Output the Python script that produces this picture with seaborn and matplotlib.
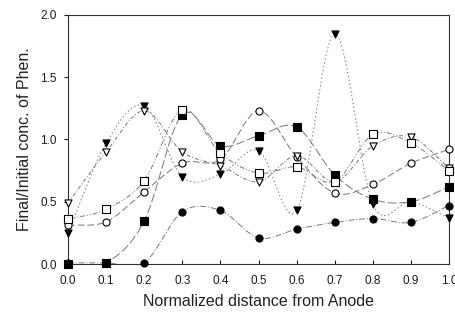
import numpy as np
import pandas as pd
import seaborn as sns
import matplotlib
matplotlib.use("Agg")
import matplotlib.pyplot as plt

# Data
distance = [0.0, 0.1, 0.2, 0.3, 0.4, 0.5, 0.6, 0.7, 0.8, 0.9, 1.0]
filled_circle = [0.01, 0.01, 0.01, 0.42, 0.43, 0.21, 0.28, 0.335, 0.365, 0.335, 0.47]
open_circle = [0.31, 0.34, 0.58, 0.81, 0.84, 1.23, 0.86, 0.57, 0.64, 0.81, 0.92]
filled_tri = [0.25, 0.97, 1.27, 0.70, 0.72, 0.91, 0.43, 1.85, 0.48, 0.50, 0.37]
open_tri = [0.49, 0.90, 1.23, 0.90, 0.79, 0.66, 0.87, 0.66, 0.95, 1.02, 0.77]
filled_sq = [0.0, 0.01, 0.345, 1.20, 0.95, 1.03, 1.10, 0.715, 0.52, 0.50, 0.62]
open_sq = [0.36, 0.44, 0.67, 1.24, 0.89, 0.73, 0.78, 0.66, 1.04, 0.97, 0.75]

x_ticks = [0.0, 0.1, 0.2, 0.3, 0.4, 0.5, 0.6, 0.7, 0.8, 0.9, 1.0]
y_ticks = [0.0, 0.5, 1.0, 1.5, 2.0]


def smooth(x, y, n=30):
    # cubic hermite (catmull-rom) curve through the points, for the drawn line only
    x = np.asarray(x, float)
    y = np.asarray(y, float)
    m = np.gradient(y, x)
    xs, ys = [], []
    for i in range(len(x) - 1):
        h = x[i + 1] - x[i]
        t = np.linspace(0, 1, n, endpoint=False)
        h00 = 2 * t**3 - 3 * t**2 + 1
        h10 = t**3 - 2 * t**2 + t
        h01 = -2 * t**3 + 3 * t**2
        h11 = t**3 - t**2
        xs.append(x[i] + t * h)
        ys.append(h00 * y[i] + h10 * h * m[i] + h01 * y[i + 1] + h11 * h * m[i + 1])
    xs.append([x[-1]])
    ys.append([y[-1]])
    return np.concatenate(xs), np.concatenate(ys)


sns.set_style("ticks")
plt.rcParams["font.family"] = ["Liberation Sans", "DejaVu Sans"]

fig = plt.figure(figsize=(4.56, 3.24), dpi=100)
ax = fig.add_axes([0.149, 0.185, 0.836, 0.769])

series = [
    (filled_circle, "o", "black", (0, (6, 2, 1, 2))),
    (open_circle, "o", "white", (0, (7, 3))),
    (filled_tri, "v", "black", (0, (1.5, 2.5))),
    (open_tri, "v", "white", (0, (4, 2, 1, 2))),
    (filled_sq, "s", "black", (0, (9, 3))),
    (open_sq, "s", "white", (0, (5, 2, 1, 2, 1, 2))),
]

for vals, marker, face, dash in series:
    xs, ys = smooth(distance, vals)
    ax.plot(xs, ys, color="#777777", lw=0.7, linestyle=dash, zorder=2)

for vals, marker, face, dash in series:
    df = pd.DataFrame({"distance": distance, "value": vals})
    sns.scatterplot(data=df, x="distance", y="value", ax=ax, marker=marker,
                    s=26, color=face, edgecolor="black", linewidth=0.8,
                    zorder=3, clip_on=False, legend=False)

ax.set_xlim(0, 1.0)
ax.set_ylim(0, 2.0)
ax.set_xticks(x_ticks)
ax.set_xticklabels([f"{v:.1f}" for v in x_ticks])
ax.set_yticks(y_ticks)
ax.set_yticklabels([f"{v:.1f}" for v in y_ticks])
ax.tick_params(axis="x", direction="in", length=3, pad=8, labelsize=8.5, colors="#1a1a1a")
ax.tick_params(axis="y", direction="out", length=3, pad=5, labelsize=8.5, colors="#1a1a1a")
for sp in ax.spines.values():
    sp.set_linewidth(0.8)
    sp.set_color("#333333")

ax.set_xlabel("Normalized distance from Anode", fontsize=11.5, labelpad=5, color="#222222")
ax.set_ylabel("Final/Initial conc. of Phen.", fontsize=11.5, labelpad=6, color="#222222")

fig.savefig("out.png", dpi=100)
